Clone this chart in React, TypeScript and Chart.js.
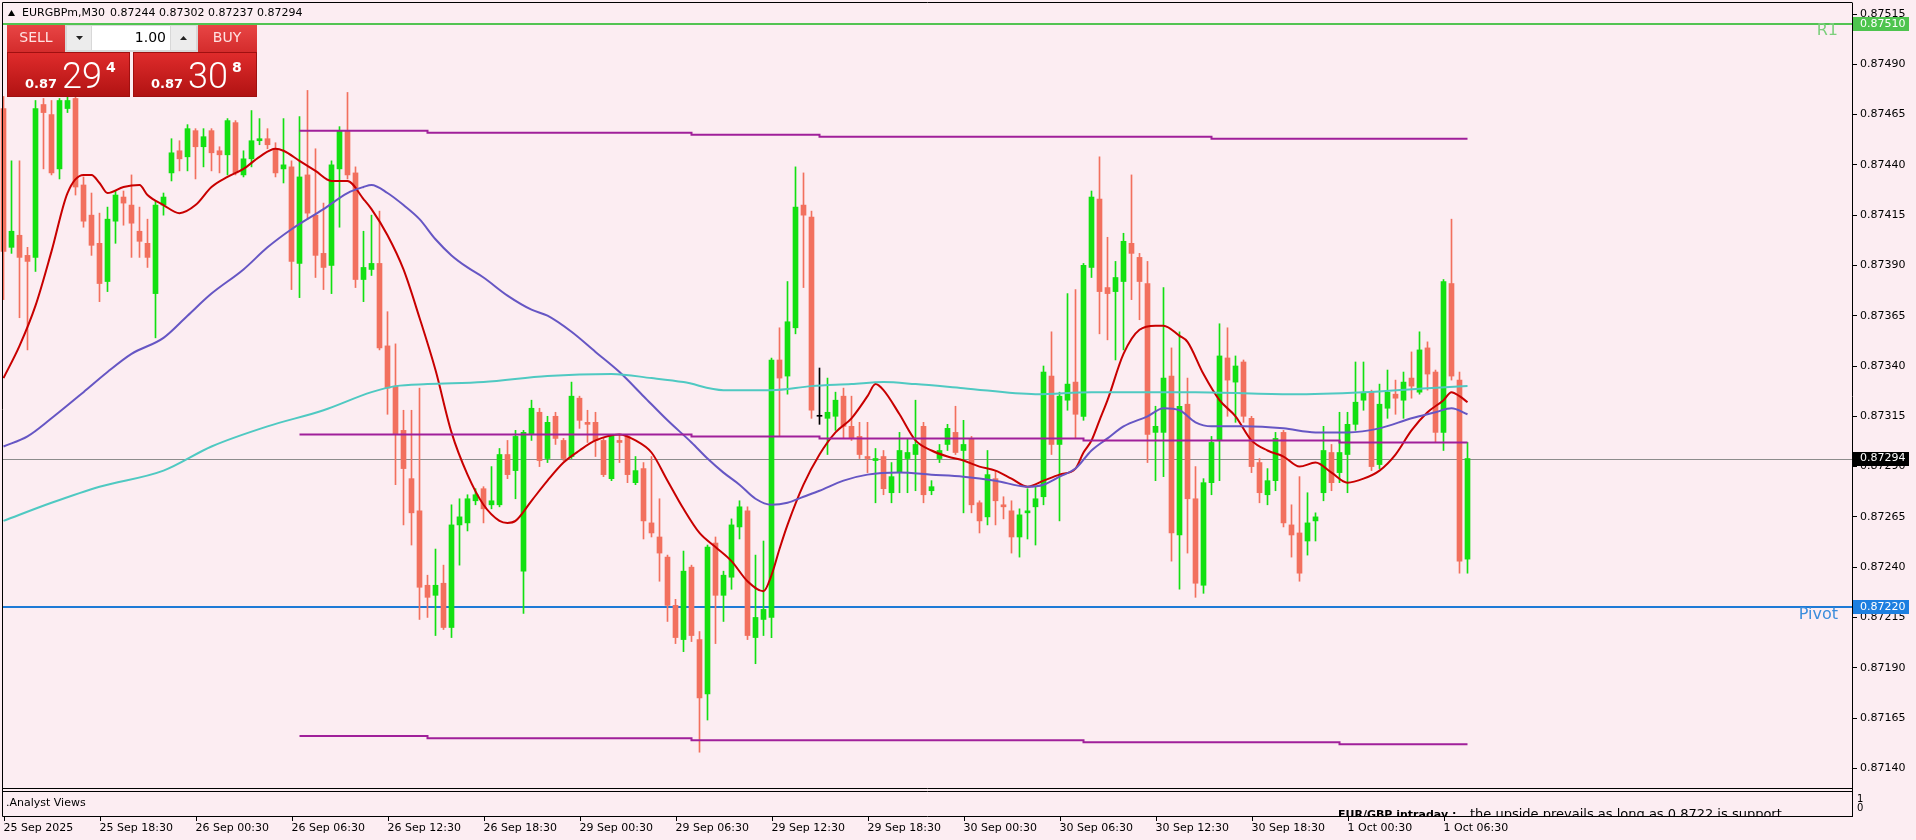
import React, { useEffect, useRef } from 'react';
import { Chart, registerables } from 'chart.js';

Chart.register(...registerables);

const FONT = '"DejaVu Sans", sans-serif';
const BG = '#fcedf2';
const BULL = '#12e012';
const BEAR = '#f2705e';
const DOJI = '#000000';

// ---- time axis (M30 bars) ----
const TICK_STEP = 12;
const tickLabels = [
  '25 Sep 2025', '25 Sep 18:30', '26 Sep 00:30', '26 Sep 06:30', '26 Sep 12:30', '26 Sep 18:30',
  '29 Sep 00:30', '29 Sep 06:30', '29 Sep 12:30', '29 Sep 18:30', '30 Sep 00:30', '30 Sep 06:30',
  '30 Sep 12:30', '30 Sep 18:30', '1 Oct 00:30', '1 Oct 06:30',
];

// ---- candles ----
const opens = [0.87468,0.87399,0.87405,0.87395,0.87394,0.87470,0.87465,0.87438,0.87468,0.87473,
0.87430,0.87415,0.87401,0.87382,0.87412,0.87424,0.87420,0.87407,0.87401,0.87376,
0.87420,0.87436,0.87447,0.87444,0.87457,0.87449,0.87457,0.87447,0.87445,0.87461,
0.87435,0.87443,0.87452,0.87453,0.87448,0.87438,0.87439,0.87391,0.87435,0.87415,
0.87396,0.87390,0.87438,0.87457,0.87436,0.87383,0.87388,0.87391,0.87350,0.87330,
0.87308,0.87284,0.87268,0.87231,0.87226,0.87232,0.87210,0.87261,0.87262,0.87273,
0.87279,0.87271,0.87271,0.87296,0.87288,0.87238,0.87306,0.87317,0.87294,0.87315,
0.87303,0.87295,0.87324,0.87312,0.87312,0.87303,0.87284,0.87303,0.87305,0.87282,
0.87289,0.87262,0.87255,0.87245,0.87221,0.87204,0.87240,0.87204,0.87177,0.87252,
0.87226,0.87235,0.87260,0.87268,0.87205,0.87214,0.87215,0.87343,0.87335,0.87359,
0.87420,0.87414,0.87315,0.87314,0.87315,0.87325,0.87310,0.87305,0.87295,0.87293,
0.87295,0.87277,0.87287,0.87294,0.87296,0.87310,0.87278,0.87294,0.87301,0.87307,
0.87298,0.87304,0.87272,0.87265,0.87284,0.87271,0.87268,0.87255,0.87267,0.87270,
0.87275,0.87335,0.87301,0.87323,0.87332,0.87315,0.87389,0.87423,0.87379,0.87377,
0.87382,0.87401,0.87394,0.87381,0.87307,0.87307,0.87335,0.87256,0.87321,0.87274,
0.87231,0.87282,0.87303,0.87344,0.87332,0.87342,0.87314,0.87292,0.87276,0.87283,
0.87307,0.87261,0.87257,0.87253,0.87263,0.87277,0.87297,0.87287,0.87296,0.87311,
0.87323,0.87327,0.87291,0.87319,0.87326,0.87323,0.87334,0.87327,0.87349,0.87337,
0.87307,0.87381,0.87333,0.87244];

const highs = [0.87474,0.87442,0.87442,0.87399,0.87472,0.87473,0.87472,0.87473,0.87474,0.87476,
0.87434,0.87426,0.87416,0.87419,0.87427,0.87427,0.87435,0.87419,0.87413,0.87422,
0.87426,0.87453,0.87452,0.87460,0.87458,0.87458,0.87458,0.87449,0.87463,0.87462,
0.87447,0.87467,0.87463,0.87458,0.87451,0.87463,0.87442,0.87464,0.87477,0.87448,
0.87421,0.87442,0.87459,0.87476,0.87439,0.87407,0.87415,0.87417,0.87367,0.87351,
0.87318,0.87318,0.87329,0.87236,0.87249,0.87241,0.87271,0.87274,0.87276,0.87279,
0.87280,0.87290,0.87299,0.87303,0.87308,0.87308,0.87323,0.87319,0.87315,0.87317,
0.87304,0.87332,0.87325,0.87318,0.87317,0.87304,0.87306,0.87306,0.87306,0.87295,
0.87292,0.87295,0.87274,0.87246,0.87224,0.87248,0.87241,0.87208,0.87251,0.87255,
0.87238,0.87264,0.87273,0.87270,0.87246,0.87253,0.87344,0.87359,0.87382,0.87439,
0.87436,0.87417,0.87339,0.87334,0.87327,0.87329,0.87325,0.87312,0.87312,0.87299,
0.87298,0.87292,0.87307,0.87304,0.87323,0.87312,0.87283,0.87301,0.87311,0.87320,
0.87313,0.87305,0.87273,0.87298,0.87288,0.87275,0.87273,0.87269,0.87279,0.87280,
0.87340,0.87357,0.87327,0.87376,0.87378,0.87391,0.87427,0.87444,0.87404,0.87392,
0.87406,0.87435,0.87396,0.87392,0.87320,0.87379,0.87349,0.87357,0.87334,0.87290,
0.87284,0.87305,0.87361,0.87359,0.87345,0.87343,0.87315,0.87294,0.87289,0.87307,
0.87308,0.87271,0.87285,0.87277,0.87267,0.87310,0.87301,0.87317,0.87317,0.87342,
0.87342,0.87328,0.87331,0.87338,0.87333,0.87337,0.87347,0.87357,0.87352,0.87338,
0.87383,0.87413,0.87337,0.87302];

const lows = [0.87373,0.87396,0.87364,0.87348,0.87387,0.87438,0.87435,0.87433,0.87466,0.87425,
0.87409,0.87395,0.87372,0.87377,0.87401,0.87410,0.87394,0.87394,0.87389,0.87354,
0.87415,0.87432,0.87437,0.87437,0.87433,0.87439,0.87437,0.87436,0.87435,0.87435,
0.87434,0.87439,0.87450,0.87448,0.87434,0.87431,0.87378,0.87374,0.87413,0.87384,
0.87378,0.87376,0.87409,0.87433,0.87379,0.87372,0.87385,0.87348,0.87316,0.87281,
0.87261,0.87251,0.87214,0.87215,0.87206,0.87209,0.87205,0.87241,0.87258,0.87271,
0.87262,0.87269,0.87270,0.87284,0.87274,0.87217,0.87303,0.87290,0.87292,0.87301,
0.87293,0.87294,0.87309,0.87302,0.87295,0.87285,0.87283,0.87292,0.87282,0.87281,
0.87254,0.87255,0.87233,0.87213,0.87202,0.87198,0.87203,0.87148,0.87164,0.87202,
0.87213,0.87229,0.87254,0.87204,0.87192,0.87206,0.87205,0.87305,0.87326,0.87356,
0.87379,0.87314,0.87311,0.87296,0.87308,0.87304,0.87303,0.87294,0.87287,0.87272,
0.87276,0.87272,0.87277,0.87277,0.87278,0.87272,0.87276,0.87292,0.87298,0.87296,
0.87267,0.87267,0.87257,0.87261,0.87261,0.87264,0.87247,0.87245,0.87254,0.87251,
0.87271,0.87296,0.87263,0.87318,0.87304,0.87313,0.87384,0.87356,0.87353,0.87343,
0.87348,0.87373,0.87363,0.87292,0.87283,0.87285,0.87243,0.87229,0.87247,0.87225,
0.87227,0.87276,0.87283,0.87315,0.87312,0.87312,0.87287,0.87272,0.87271,0.87278,
0.87260,0.87245,0.87233,0.87246,0.87253,0.87273,0.87278,0.87282,0.87277,0.87308,
0.87318,0.87288,0.87289,0.87314,0.87316,0.87314,0.87324,0.87326,0.87328,0.87302,
0.87298,0.87333,0.87237,0.87237];

const closes = [0.87397,0.87407,0.87394,0.87392,0.87468,0.87466,0.87436,0.87472,0.87472,0.87429,
0.87412,0.87400,0.87381,0.87413,0.87425,0.87421,0.87411,0.87402,0.87394,0.87420,
0.87424,0.87446,0.87443,0.87458,0.87449,0.87454,0.87446,0.87445,0.87462,0.87436,
0.87443,0.87452,0.87453,0.87450,0.87436,0.87440,0.87392,0.87434,0.87416,0.87395,
0.87389,0.87440,0.87457,0.87435,0.87383,0.87389,0.87391,0.87349,0.87329,0.87306,
0.87289,0.87267,0.87230,0.87225,0.87231,0.87210,0.87261,0.87265,0.87274,0.87276,
0.87269,0.87273,0.87296,0.87286,0.87305,0.87307,0.87319,0.87293,0.87312,0.87304,
0.87294,0.87325,0.87313,0.87311,0.87303,0.87286,0.87306,0.87302,0.87286,0.87288,
0.87263,0.87257,0.87247,0.87221,0.87205,0.87238,0.87206,0.87175,0.87250,0.87226,
0.87236,0.87261,0.87270,0.87206,0.87215,0.87219,0.87343,0.87334,0.87362,0.87419,
0.87415,0.87318,0.87315,0.87317,0.87323,0.87310,0.87304,0.87296,0.87294,0.87294,
0.87279,0.87285,0.87298,0.87297,0.87301,0.87276,0.87280,0.87298,0.87309,0.87297,
0.87301,0.87271,0.87263,0.87286,0.87273,0.87270,0.87255,0.87266,0.87268,0.87274,
0.87337,0.87301,0.87325,0.87331,0.87316,0.87390,0.87424,0.87377,0.87376,0.87384,
0.87402,0.87396,0.87382,0.87306,0.87310,0.87334,0.87257,0.87320,0.87274,0.87232,
0.87282,0.87302,0.87345,0.87333,0.87340,0.87315,0.87290,0.87277,0.87283,0.87304,
0.87262,0.87256,0.87237,0.87262,0.87265,0.87298,0.87282,0.87297,0.87311,0.87322,
0.87327,0.87290,0.87321,0.87327,0.87324,0.87332,0.87330,0.87348,0.87336,0.87307,
0.87382,0.87335,0.87243,0.87294];

// ---- moving averages (bar index -> value) ----
const maFastIdx = [0,2,4,6,8,10,11,12,13,15,17,18,20,22,24,26,28,30,32,34,35,37,39,41,43,45,46,48,50,52,54,56,58,60,62,63,64,66,68,70,72,74,77,79,81,83,85,87,89,91,93,95,96,97,98,100,102,104,106,108,109,110,112,114,116,118,120,122,124,126,128,130,132,134,135,136,137,138,140,142,144,145,147,148,150,152,154,156,158,160,162,164,166,168,170,172,174,176,178,180,181,182,183];
const maFast = [0.87334,0.87350,0.87370,0.87397,0.87426,0.87435,0.87435,0.87431,0.87426,0.87429,0.87430,0.87425,0.87420,0.87416,0.87420,0.87429,0.87434,0.87438,0.87444,0.87448,0.87447,0.87442,0.87437,0.87432,0.87432,0.87423,0.87418,0.87405,0.87388,0.87364,0.87338,0.87307,0.87286,0.87271,0.87263,0.87262,0.87263,0.87273,0.87283,0.87292,0.87298,0.87303,0.87306,0.87303,0.87297,0.87283,0.87269,0.87257,0.87250,0.87243,0.87233,0.87228,0.87236,0.87249,0.87261,0.87281,0.87296,0.87307,0.87314,0.87325,0.87331,0.87328,0.87316,0.87303,0.87298,0.87295,0.87293,0.87290,0.87288,0.87284,0.87280,0.87283,0.87286,0.87289,0.87297,0.87303,0.87313,0.87323,0.87346,0.87358,0.87360,0.87360,0.87355,0.87352,0.87336,0.87323,0.87315,0.87303,0.87298,0.87295,0.87290,0.87292,0.87287,0.87282,0.87284,0.87288,0.87296,0.87308,0.87317,0.87323,0.87327,0.87325,0.87322];

const maSlowIdx = [0,3,6,10,13,16,20,23,26,30,33,36,40,43,45,46,48,50,52,54,56,58,60,63,66,68,71,74,77,80,83,86,88,90,92,94,96,98,100,102,105,108,112,116,120,124,128,130,132,134,136,138,140,143,145,147,149,151,155,160,164,168,172,176,179,181,183];
const maSlow = [0.87300,0.87305,0.87314,0.87327,0.87337,0.87346,0.87354,0.87365,0.87376,0.87388,0.87399,0.87408,0.87418,0.87426,0.87429,0.87430,0.87426,0.87420,0.87413,0.87403,0.87395,0.87389,0.87384,0.87375,0.87368,0.87365,0.87357,0.87347,0.87337,0.87325,0.87313,0.87302,0.87294,0.87287,0.87281,0.87274,0.87271,0.87272,0.87275,0.87278,0.87283,0.87286,0.87287,0.87286,0.87285,0.87283,0.87280,0.87281,0.87285,0.87289,0.87298,0.87304,0.87310,0.87315,0.87319,0.87318,0.87312,0.87310,0.87310,0.87309,0.87307,0.87307,0.87309,0.87314,0.87317,0.87319,0.87316];

const maLongIdx = [0,6,12,20,26,33,40,46,49,53,60,68,76,81,85,90,96,101,106,110,114,120,129,136,149,161,170,178,183];
const maLong = [0.87263,0.87272,0.87280,0.87288,0.87300,0.87310,0.87318,0.87327,0.87330,0.87331,0.87332,0.87335,0.87336,0.87334,0.87332,0.87328,0.87328,0.87330,0.87331,0.87332,0.87331,0.87329,0.87326,0.87327,0.87327,0.87326,0.87327,0.87329,0.87330];

// ---- level lines (segment starts) ----
const levelIdx = [37, 53, 86, 102, 135, 151, 167, 183];
const levelUpper = [0.87457, 0.87456, 0.87455, 0.87454, 0.87454, 0.87453, 0.87453, 0.87453];
const levelMiddle = [0.87306, 0.87306, 0.87305, 0.87304, 0.87303, 0.87303, 0.87302, 0.87302];
const levelLower = [0.87156, 0.87155, 0.87154, 0.87154, 0.87153, 0.87153, 0.87152, 0.87152];

// ---- price levels / axis ----
const yTickValues = [0.8714, 0.87165, 0.8719, 0.87215, 0.8724, 0.87265, 0.8729, 0.87315, 0.8734, 0.87365, 0.8739, 0.87415, 0.8744, 0.87465, 0.8749, 0.87515];
const r1Level = 0.8751;
const pivotLevel = 0.8722;
const lastPrice = 0.87294;
const Y_MIN = 0.8712971;
const Y_MAX = 0.8752047;
const X_MIN = -0.4375;
const X_MAX = 231.0625;

const headerSymbol = 'EURGBPm,M30';
const headerValues = '0.87244 0.87302 0.87237 0.87294';
const bidParts = ['0.87', '29', '4'];
const askParts = ['0.87', '30', '8'];
const lotText = '1.00';
const subTitle = '.Analyst Views';
const viewTitle = 'EUR/GBP intraday :';
const viewText = 'the upside prevails as long as 0.8722 is support';

function drawPanel(ctx: CanvasRenderingContext2D) {
  const grad = (x: number, y: number, w: number, h: number, c1: string, c2: string) => {
    const g = ctx.createLinearGradient(0, y, 0, y + h);
    g.addColorStop(0, c1);
    g.addColorStop(1, c2);
    ctx.fillStyle = g;
    ctx.fillRect(x, y, w, h);
  };
  // top row
  grad(7, 25, 58, 27, '#e84545', '#d42c2c');
  grad(198, 25, 59, 27, '#e84545', '#d42c2c');
  ctx.fillStyle = '#d8d8d8';
  ctx.fillRect(65, 25, 133, 27);
  ctx.fillStyle = '#ececec';
  ctx.fillRect(67, 26, 24, 24);
  ctx.fillRect(171, 26, 25, 24);
  ctx.fillStyle = '#ffffff';
  ctx.fillRect(92, 26, 78, 24);
  ctx.fillStyle = '#222';
  ctx.beginPath();
  ctx.moveTo(76, 36); ctx.lineTo(83, 36); ctx.lineTo(79.5, 40); ctx.closePath(); ctx.fill();
  ctx.beginPath();
  ctx.moveTo(180, 40); ctx.lineTo(187, 40); ctx.lineTo(183.5, 36); ctx.closePath(); ctx.fill();
  ctx.textBaseline = 'middle';
  ctx.textAlign = 'center';
  ctx.font = `14px ${FONT}`;
  ctx.fillStyle = '#ffe2e2';
  ctx.fillText('SELL', 36, 38);
  ctx.fillText('BUY', 227, 38);
  ctx.textAlign = 'right';
  ctx.fillStyle = '#000';
  ctx.font = `14px ${FONT}`;
  ctx.fillText(lotText, 166, 38);
  // price boxes
  grad(7, 52, 123, 45, '#e02c2c', '#b01212');
  grad(133, 52, 124, 45, '#e02c2c', '#b01212');
  ctx.strokeStyle = '#a01010';
  ctx.lineWidth = 1;
  ctx.strokeRect(7.5, 52.5, 122, 44);
  ctx.strokeRect(133.5, 52.5, 123, 44);
  const drawPrice = (x: number, parts: string[]) => {
    ctx.fillStyle = '#fff';
    ctx.textAlign = 'left';
    ctx.textBaseline = 'alphabetic';
    ctx.font = `bold 13px ${FONT}`;
    ctx.fillText(parts[0], x, 88);
    ctx.font = `300 36px Roboto, "Open Sans", sans-serif`;
    ctx.fillText(parts[1], x + 37, 88);
    ctx.font = `bold 14px ${FONT}`;
    ctx.fillText(parts[2], x + 81, 72);
  };
  drawPrice(25, bidParts);
  drawPrice(151, askParts);
}

const overlayPlugin = {
  id: 'mt4Overlay',
  beforeDraw(chart: any) {
    const { ctx, width, height } = chart;
    ctx.save();
    ctx.fillStyle = BG;
    ctx.fillRect(0, 0, width, height);
    ctx.restore();
  },
  beforeDatasetsDraw(chart: any) {
    const { ctx, chartArea, scales } = chart;
    const y = scales.y;
    const hline = (v: number, color: string, w: number) => {
      const py = Math.round(y.getPixelForValue(v)) + (w % 2 ? 0.5 : 0);
      ctx.beginPath();
      ctx.moveTo(chartArea.left + 2, py);
      ctx.lineTo(chartArea.right, py);
      ctx.strokeStyle = color;
      ctx.lineWidth = w;
      ctx.stroke();
    };
    ctx.save();
    hline(lastPrice, '#8c8c8c', 1);
    hline(r1Level, '#52c452', 2);
    hline(pivotLevel, '#1e7ad6', 2);
    ctx.restore();
  },
  afterDraw(chart: any) {
    const { ctx, chartArea, scales } = chart;
    const y = scales.y;
    const x = scales.x;
    const R = chartArea.right;
    ctx.save();
    // level names
    ctx.font = `16px ${FONT}`;
    ctx.textAlign = 'right';
    ctx.textBaseline = 'middle';
    ctx.fillStyle = '#7ccf7c';
    ctx.fillText('R1', 1838, y.getPixelForValue(r1Level) + 7);
    ctx.fillStyle = '#3b8ddc';
    ctx.fillText('Pivot', 1838, y.getPixelForValue(pivotLevel) + 7);

    // frames
    ctx.strokeStyle = '#000';
    ctx.lineWidth = 1;
    ctx.beginPath();
    ctx.moveTo(2.5, 2.5); ctx.lineTo(R + 0.5, 2.5);
    ctx.moveTo(2.5, 2.5); ctx.lineTo(2.5, 816.5);
    ctx.moveTo(2.5, 788.5); ctx.lineTo(R + 0.5, 788.5);
    ctx.moveTo(2.5, 791.5); ctx.lineTo(R + 0.5, 791.5);
    ctx.moveTo(2.5, 816.5); ctx.lineTo(R + 0.5, 816.5);
    ctx.moveTo(R + 0.5, 786); ctx.lineTo(R + 0.5, 817);
    ctx.stroke();

    // time tick marks
    ctx.beginPath();
    x.ticks.forEach((t: any) => {
      const px = Math.round(x.getPixelForValue(t.value)) + 0.5;
      ctx.moveTo(px, 817); ctx.lineTo(px, 821);
    });
    ctx.stroke();

    // sub window
    ctx.fillStyle = '#000';
    ctx.textAlign = 'left';
    ctx.textBaseline = 'middle';
    ctx.font = `11px ${FONT}`;
    ctx.fillText(subTitle, 6, 803);
    ctx.font = `10px ${FONT}`;
    ctx.fillText('1', 1857, 799);
    ctx.fillText('0', 1857, 808);
    ctx.save();
    ctx.beginPath();
    ctx.rect(3, 792, R - 3, 24);
    ctx.clip();
    ctx.textBaseline = 'alphabetic';
    ctx.font = `bold 11px ${FONT}`;
    ctx.fillText(viewTitle, 1338, 818);
    ctx.font = `13px ${FONT}`;
    ctx.fillText(viewText, 1470, 818);
    ctx.restore();

    // price boxes on the axis
    const box = (v: number, bg: string) => {
      const py = y.getPixelForValue(v);
      ctx.fillStyle = bg;
      ctx.fillRect(R + 1, Math.round(py) - 7, 56, 14);
      ctx.fillStyle = '#fff';
      ctx.font = `11px ${FONT}`;
      ctx.textAlign = 'left';
      ctx.textBaseline = 'middle';
      ctx.fillText(v.toFixed(5), R + 8, py);
    };
    box(r1Level, '#4ec44e');
    box(lastPrice, '#000000');
    box(pivotLevel, '#1c7fe0');

    // header
    ctx.fillStyle = '#000';
    ctx.beginPath();
    ctx.moveTo(8, 16); ctx.lineTo(15, 16); ctx.lineTo(11.5, 10); ctx.closePath(); ctx.fill();
    ctx.font = `11px ${FONT}`;
    ctx.textAlign = 'left';
    ctx.textBaseline = 'middle';
    ctx.fillText(headerSymbol, 22, 13);
    ctx.fillText(headerValues, 110, 13);

    drawPanel(ctx);
    ctx.restore();
  },
};

export default function App() {
  const ref = useRef<HTMLCanvasElement>(null);
  useEffect(() => {
    const canvas = ref.current;
    if (!canvas) return;
    const idx = opens.map((_, i) => i);
    const colors = idx.map((i) => (closes[i] > opens[i] ? BULL : closes[i] < opens[i] ? BEAR : DOJI));
    const lineDs = (label: string, ix: number[], vals: number[], color: string, extra: any = {}) => ({
      type: 'line',
      label,
      data: ix.map((xv, k) => ({ x: xv, y: vals[k] })),
      borderColor: color,
      borderWidth: 2,
      pointRadius: 0,
      fill: false,
      order: 0,
      ...extra,
    });
    const chart = new Chart(canvas, {
      type: 'bar',
      data: {
        datasets: [
          lineDs('Level upper', levelIdx, levelUpper, '#a0209a', { stepped: true }),
          lineDs('Level middle', levelIdx, levelMiddle, '#a0209a', { stepped: true }),
          lineDs('Level lower', levelIdx, levelLower, '#a0209a', { stepped: true }),
          lineDs('MA long', maLongIdx, maLong, '#4fc9c2', { cubicInterpolationMode: 'monotone' }),
          lineDs('MA slow', maSlowIdx, maSlow, '#6656c4', { cubicInterpolationMode: 'monotone' }),
          lineDs('MA fast', maFastIdx, maFast, '#c80000', { cubicInterpolationMode: 'monotone' }),
          {
            type: 'bar',
            label: 'Body',
            data: idx.map((i) => ({ x: i, y: [opens[i], closes[i]] })),
            backgroundColor: colors,
            borderWidth: 0,
            barThickness: 5,
            minBarLength: 1,
            grouped: false,
            order: 5,
          },
          {
            type: 'bar',
            label: 'Wick',
            data: idx.map((i) => ({ x: i, y: [lows[i], highs[i]] })),
            backgroundColor: colors,
            borderWidth: 0,
            barThickness: 1,
            grouped: false,
            order: 6,
          },
        ],
      } as any,
      options: {
        animation: false,
        responsive: false,
        devicePixelRatio: 1,
        layout: { padding: { top: 3, left: 0, right: 0, bottom: 0 } },
        plugins: { legend: { display: false }, tooltip: { enabled: false } },
        scales: {
          x: {
            type: 'linear',
            position: 'bottom',
            min: X_MIN,
            max: X_MAX,
            offset: false,
            afterBuildTicks: (s: any) => {
              s.ticks = tickLabels.map((_, k) => ({ value: k * TICK_STEP }));
            },
            afterFit: (s: any) => {
              s.height = 51;
              s.paddingLeft = 0;
              s.paddingRight = 0;
            },
            ticks: {
              autoSkip: false,
              maxRotation: 0,
              minRotation: 0,
              align: 'start',
              padding: 33,
              color: '#000',
              font: { family: FONT, size: 11 },
              callback: (v: any) => tickLabels[Math.round(Number(v) / TICK_STEP)] ?? '',
            },
            grid: { display: false, drawTicks: false, tickLength: 0 },
            border: { display: false },
          },
          y: {
            type: 'linear',
            position: 'right',
            min: Y_MIN,
            max: Y_MAX,
            afterBuildTicks: (s: any) => {
              s.ticks = yTickValues.map((v) => ({ value: v }));
            },
            afterFit: (s: any) => {
              s.width = 64;
              s.paddingTop = 0;
              s.paddingBottom = 0;
            },
            ticks: {
              padding: 3,
              color: '#000',
              font: { family: FONT, size: 11 },
              callback: (v: any) => Number(v).toFixed(5),
            },
            grid: { display: true, drawOnChartArea: false, drawTicks: true, tickLength: 5, color: '#000' },
            border: { display: true, color: '#000' },
          },
        },
      } as any,
      plugins: [overlayPlugin as any],
    });
    return () => chart.destroy();
  }, []);
  return (
    <div style={{ position: 'fixed', left: 0, top: 0, width: 1916, height: 840, background: BG }}>
      <canvas ref={ref} width={1916} height={840} style={{ display: 'block', width: 1916, height: 840 }} />
    </div>
  );
}
